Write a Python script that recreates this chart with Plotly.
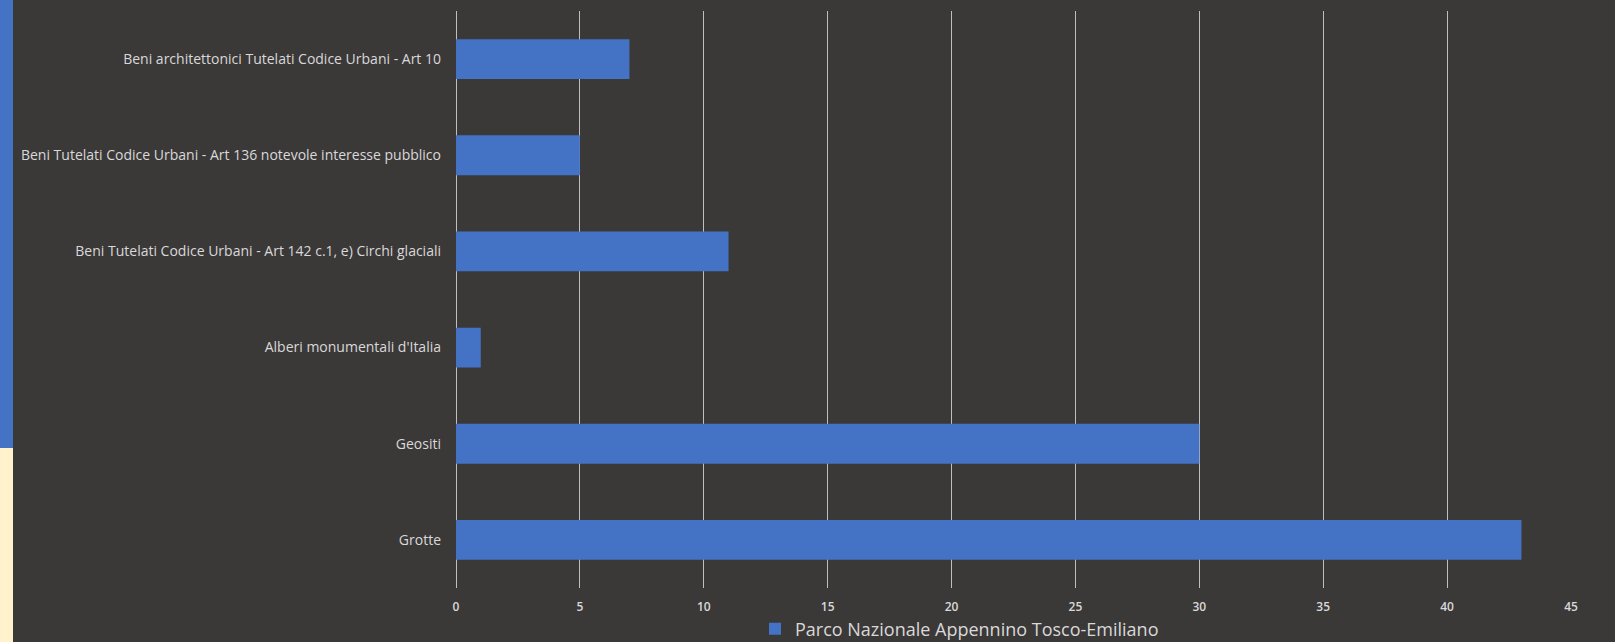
import plotly.graph_objects as go

CATEGORIES = [
    "Beni architettonici Tutelati Codice Urbani - Art 10",
    "Beni Tutelati Codice Urbani - Art 136 notevole interesse pubblico",
    "Beni Tutelati Codice Urbani - Art 142 c.1, e) Circhi glaciali",
    "Alberi monumentali d'Italia",
    "Geositi",
    "Grotte",
]
VALUES = [7, 5, 11, 1, 30, 43]
SERIES_NAME = "Parco Nazionale Appennino Tosco-Emiliano"
X_TICKS = [0, 5, 10, 15, 20, 25, 30, 35, 40, 45]

BG = "#3B3838"
BAR = "#4472C4"
GRID = "#BFBFBF"
TEXT = "#D9D9D9"

# pixel geometry of the plot area in the 1615x642 page
W, H = 1615, 642
LEFT, RIGHT, TOP, BOTTOM = 456, 1571, 11, 588


def px_x(p):
    return (p - LEFT) / (RIGHT - LEFT)


def px_y(p):
    return (BOTTOM - p) / (BOTTOM - TOP)


fig = go.Figure(
    go.Bar(
        x=VALUES,
        y=CATEGORIES,
        orientation="h",
        name=SERIES_NAME,
        marker={"color": BAR, "line": {"width": 0}},
        showlegend=True,
    )
)

fig.update_layout(
    width=W,
    height=H,
    paper_bgcolor=BG,
    plot_bgcolor=BG,
    margin={"l": LEFT, "r": W - RIGHT, "t": TOP, "b": H - BOTTOM, "autoexpand": False},
    bargap=0.585,
    font={"family": "Open Sans, sans-serif", "color": TEXT, "size": 14},
    showlegend=True,
    legend={
        "orientation": "h",
        "x": px_x(755),
        "xanchor": "left",
        "y": px_y(629),
        "yanchor": "middle",
        "bgcolor": "rgba(0,0,0,0)",
        "font": {"size": 18, "color": TEXT},
        "itemwidth": 30,
    },
    # screenshot edge remnants on the left side
    shapes=[
        {
            "type": "rect", "xref": "paper", "yref": "paper",
            "x0": px_x(0), "x1": px_x(13), "y0": px_y(0), "y1": px_y(448),
            "fillcolor": "#4472C4", "line": {"width": 0}, "layer": "below",
        },
        {
            "type": "rect", "xref": "paper", "yref": "paper",
            "x0": px_x(0), "x1": px_x(13), "y0": px_y(448), "y1": px_y(H),
            "fillcolor": "#FFF2CC", "line": {"width": 0}, "layer": "below",
        },
    ],
)

fig.update_xaxes(
    range=[0, 45],
    tickvals=X_TICKS,
    showgrid=True,
    gridcolor=GRID,
    gridwidth=1,
    zeroline=True,
    zerolinecolor=GRID,
    zerolinewidth=1,
    showline=False,
    ticks="",
    ticklabelstandoff=10,
    tickfont={"size": 12, "color": TEXT, "weight": 600},
)
fig.update_yaxes(
    autorange="reversed",
    showgrid=False,
    zeroline=False,
    showline=False,
    ticks="",
    ticklabelstandoff=14,
    tickfont={"size": 14, "color": TEXT},
)

fig.write_html(
    "out.html",
    config={"displayModeBar": False},
    post_script="document.body.style.margin='0';",
)
